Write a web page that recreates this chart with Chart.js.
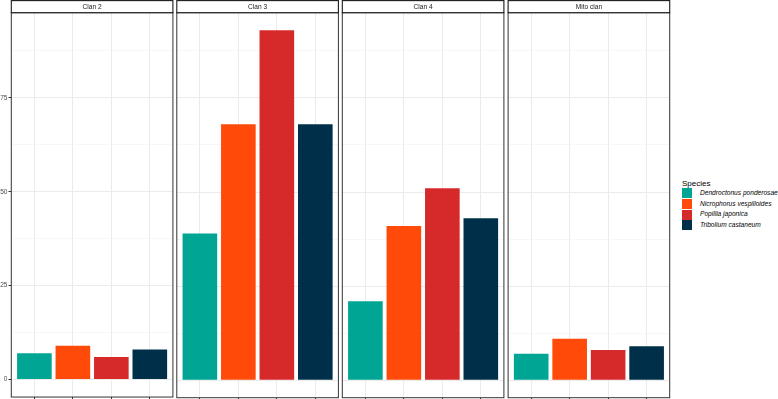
<!DOCTYPE html>
<html>
<head>
<meta charset="utf-8">
<script src="https://cdn.jsdelivr.net/npm/chart.js@4.4.1/dist/chart.umd.min.js"></script>
<style>
    html, body { margin: 0; padding: 0; background: #fff; }
    #lienzo { position: relative; width: 778px; height: 399px; overflow: hidden; font-family: 'Liberation Sans', Arial, sans-serif; }
    #lienzo canvas { position: absolute; top: 0; }
    .leyenda-titulo { position: absolute; left: 682px; top: 180px; font-size: 8px; line-height: 8px; color: #000; white-space: nowrap; }
    .leyenda-clave { position: absolute; left: 682px; width: 10px; height: 10px; }
    .leyenda-texto { position: absolute; left: 700px; height: 10.6px; line-height: 10.6px; font-size: 6.6px; font-style: italic; color: #000; white-space: nowrap; }
</style>
</head>
<body>
<div id="lienzo"></div>
<script>
const especies = ['Dendroctonus ponderosae', 'Nicrophorus vespilloides', 'Popillia japonica', 'Tribolium castaneum'];
const clanes = ['Clan 2', 'Clan 3', 'Clan 4', 'Mito clan'];
const valoresClan2 = [7, 9, 6, 8];
const valoresClan3 = [39, 68, 93, 68];
const valoresClan4 = [21, 41, 51, 43];
const valoresMito = [7, 11, 8, 9];
const marcasY = [0, 25, 50, 75];
const colores = ['#00A693', '#FF4A0A', '#D62A2A', '#003049'];

const valoresPorClan = [valoresClan2, valoresClan3, valoresClan4, valoresMito];

// escala comun para los cuatro paneles, con el 5% de margen
const maximo = Math.max(...valoresPorClan.flat());
const yMin = -0.05 * maximo;
const yMax = maximo * 1.05;

const panelIzq = [11.3, 176.8, 342.3, 508.1];
const anchoPanel = 161.6;
const panelArriba = 12.7;
const panelAbajo = 397.7;
const altoCanvas = 402;

Chart.defaults.font.family = "'Liberation Sans', Arial, sans-serif";

const tiraPanel = {
    id: 'tiraPanel',
    afterDraw(chart, args, opts) {
        const { ctx, chartArea: a } = chart;
        ctx.save();
        // marco del panel
        ctx.strokeStyle = '#333333';
        ctx.lineWidth = 1;
        ctx.strokeRect(a.left, a.top, a.right - a.left, a.bottom - a.top);
        // tira con el nombre del clan
        ctx.fillStyle = '#ffffff';
        ctx.fillRect(a.left, 0.6, a.right - a.left, a.top - 0.6);
        ctx.strokeStyle = '#1A1A1A';
        ctx.lineWidth = 1.1;
        ctx.strokeRect(a.left, 0.6, a.right - a.left, a.top - 0.6);
        ctx.fillStyle = '#1A1A1A';
        ctx.font = "6.6px 'Liberation Sans', Arial, sans-serif";
        ctx.textAlign = 'center';
        ctx.textBaseline = 'middle';
        ctx.fillText(opts.titulo, (a.left + a.right) / 2, a.top / 2 + 0.4);
        ctx.restore();
    }
};

function crearPanel(i) {
    const esPrimero = i === 0;
    const canvasIzq = esPrimero ? 0 : Math.floor(panelIzq[i]) - 2;
    const derecha = panelIzq[i] + anchoPanel;
    const canvasAncho = Math.ceil(derecha) + 2 - canvasIzq;

    const canvas = document.createElement('canvas');
    canvas.width = canvasAncho;
    canvas.height = altoCanvas;
    canvas.style.left = canvasIzq + 'px';
    canvas.style.width = canvasAncho + 'px';
    canvas.style.height = altoCanvas + 'px';
    document.getElementById('lienzo').appendChild(canvas);

    new Chart(canvas.getContext('2d'), {
        type: 'bar',
        data: {
            datasets: [{
                label: clanes[i],
                data: valoresPorClan[i].map((v, k) => ({ x: k + 1, y: v })),
                backgroundColor: colores,
                borderWidth: 0,
                barPercentage: 0.9,
                categoryPercentage: 1
            }]
        },
        options: {
            responsive: false,
            animation: false,
            devicePixelRatio: 1,
            layout: {
                padding: { left: 0, right: canvasAncho - (derecha - canvasIzq), top: panelArriba, bottom: 0 }
            },
            plugins: {
                legend: { display: false },
                tooltip: { enabled: false },
                tiraPanel: { titulo: clanes[i] }
            },
            scales: {
                x: {
                    type: 'linear',
                    min: 0.4,
                    max: 4.6,
                    offset: false,
                    afterBuildTicks: s => { s.ticks = especies.map((e, k) => ({ value: k + 1 })); },
                    afterFit: s => { s.height = altoCanvas - panelAbajo; },
                    ticks: { display: false },
                    grid: { offset: false, color: '#EBEBEB', lineWidth: 1, tickLength: 3, tickColor: '#333333' },
                    border: { display: false }
                },
                y: {
                    min: yMin,
                    max: yMax,
                    afterBuildTicks: s => {
                        // marcas principales y secundarias (a mitad de camino)
                        const todas = [];
                        marcasY.forEach(m => { todas.push(m); todas.push(m + 12.5); });
                        s.ticks = todas.map(v => ({ value: v }));
                    },
                    afterFit: s => { s.width = panelIzq[i] - canvasIzq; },
                    ticks: {
                        display: esPrimero,
                        padding: 1,
                        color: '#4D4D4D',
                        font: { size: 6.6 },
                        callback: v => marcasY.includes(v) ? String(v) : ''
                    },
                    grid: {
                        color: c => marcasY.includes(c.tick.value) ? '#EBEBEB' : '#F3F3F3',
                        lineWidth: c => marcasY.includes(c.tick.value) ? 1 : 0.7,
                        drawTicks: esPrimero,
                        tickLength: 2.8,
                        tickColor: c => marcasY.includes(c.tick.value) ? '#333333' : 'rgba(0,0,0,0)'
                    },
                    border: { display: false }
                }
            }
        },
        plugins: [tiraPanel]
    });
}

clanes.forEach((c, i) => crearPanel(i));

// leyenda
const lienzo = document.getElementById('lienzo');
const titulo = document.createElement('div');
titulo.className = 'leyenda-titulo';
titulo.textContent = 'Species';
lienzo.appendChild(titulo);

especies.forEach((e, k) => {
    const arriba = 188.3 + k * 10.6;
    const clave = document.createElement('div');
    clave.className = 'leyenda-clave';
    clave.style.top = arriba + 'px';
    clave.style.background = colores[k];
    lienzo.appendChild(clave);

    const texto = document.createElement('div');
    texto.className = 'leyenda-texto';
    texto.style.top = (arriba - 0.3) + 'px';
    texto.textContent = e;
    lienzo.appendChild(texto);
});
</script>
</body>
</html>
